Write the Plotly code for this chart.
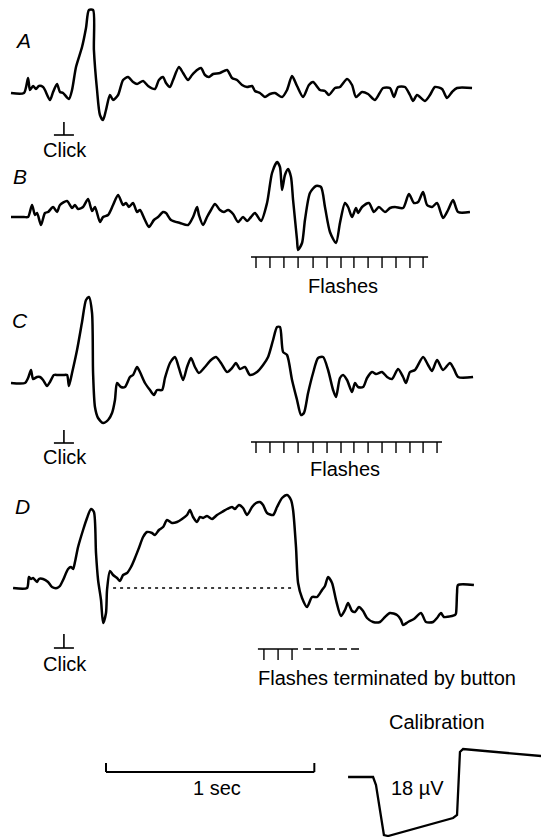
import plotly.graph_objects as go

# ---------------- DATA (time in ms from sweep start, amplitude in µV re. baseline) ----------------
a_t = [0, 62, 82, 91, 106, 120, 134, 154, 163, 187, 202, 221, 235, 250, 278, 293, 312, 341, 360, 374,
       394, 398, 413, 427, 442, 456, 475, 490, 514, 538, 562, 586, 605, 634, 658, 691, 710, 730, 744, 763,
       778, 806, 826, 850, 869, 893, 912, 931, 950, 970, 1003, 1037, 1061, 1085, 1109, 1133, 1157, 1171, 1195, 1219,
       1243, 1267, 1301, 1325, 1349, 1373, 1402, 1430, 1450, 1483, 1507, 1526, 1555, 1579, 1613, 1637, 1656, 1685, 1714, 1747,
       1786, 1819, 1838, 1858, 1891, 1915, 1930, 1949, 1987, 2011, 2035, 2069, 2093, 2117, 2141, 2213]
a_v = [0, 0, 4.5, 0.9, 2.1, 1.2, 2.1, 1.8, 0.9, -2.1, 0.3, 2.7, 0.3, 0, -1.8, 0.9, 7.8, 13.8, 19.5, 24.9,
       24.9, 12.9, 0.9, -6.6, -8.1, -5.1, -0.6, -2.1, -0.6, 3.9, 4.8, 3.3, 2.7, 3.6, 2.1, 1.2, 3.9, 4.8, 3.0, 1.8,
       3.9, 7.8, 6.0, 3.9, 5.4, 6.9, 7.5, 5.4, 4.8, 5.7, 6.0, 6.9, 4.5, 3.9, 2.4, 1.8, 2.1, 0.6, 0, -1.2,
       -0.3, 0, -1.2, 0.9, 5.1, 2.1, -1.2, 2.4, 3.3, 0.9, 0.6, -0.6, 1.5, 1.8, 4.2, 2.4, -1.2, 0.3, -0.3, -2.1,
       1.5, 1.5, -1.2, 1.8, 1.8, -0.6, -2.4, -0.6, -2.4, -0.6, 1.8, 1.2, -1.5, 0.3, 1.5, 1.5]

b_t = [0, 62, 82, 101, 115, 125, 144, 163, 178, 202, 221, 235, 269, 293, 307, 322, 346, 370, 389, 403,
       427, 442, 466, 490, 514, 538, 552, 566, 586, 605, 619, 643, 662, 686, 706, 730, 744, 768, 811, 850,
       874, 893, 902, 922, 941, 960, 979, 1003, 1022, 1042, 1066, 1090, 1114, 1133, 1152, 1171, 1200, 1229, 1253, 1277,
       1291, 1301, 1315, 1330, 1344, 1354, 1373, 1378, 1397, 1411, 1435, 1464, 1488, 1507, 1531, 1560, 1579, 1603, 1618, 1637,
       1656, 1666, 1685, 1718, 1742, 1766, 1795, 1819, 1843, 1882, 1910, 1934, 1954, 1978, 1997, 2021, 2045, 2074, 2098, 2122,
       2146, 2203]
b_v = [0, 0, 0, 3.6, 0.6, 1.2, -2.4, 1.2, 1.5, 3.0, 1.5, 3.6, 4.8, 2.7, 3.6, 2.4, 3.0, 5.4, 1.8, 3.0,
       -1.5, 0, 0.6, 3.6, 6.6, 3.6, 4.2, 3.0, 4.2, 1.5, 2.1, -0.9, -3.0, -0.9, 0, 1.5, 1.2, -0.9, -1.8, -2.4,
       0, 3.0, 0.6, -2.4, 0, 2.1, 3.9, 2.1, 1.5, 2.1, 0.9, -1.5, 0, -1.2, 0, 1.2, -1.2, 4.2, 13.2, 16.5,
       15.0, 8.1, 12.6, 14.4, 12.0, 5.1, -6.9, -9.9, -7.8, -0.9, 7.2, 9.3, 9.0, 3.0, -4.5, -7.8, -1.8, 4.2, 3.0, 0,
       2.7, 1.2, 3.0, 4.2, 1.5, 3.0, 1.5, 2.7, 3.0, 2.7, 6.9, 4.2, 4.5, 7.5, 3.6, 3.0, 4.2, -0.3, 2.1, 5.1,
       1.5, 1.5]

c_t = [0, 67, 82, 96, 106, 125, 139, 154, 173, 187, 206, 226, 250, 269, 278, 293, 317, 341, 360, 374,
       389, 394, 403, 418, 442, 466, 485, 499, 509, 528, 547, 571, 586, 605, 619, 643, 667, 686, 701, 725,
       739, 763, 787, 806, 826, 845, 864, 883, 902, 931, 960, 984, 1008, 1037, 1061, 1080, 1099, 1123, 1147, 1181,
       1210, 1234, 1258, 1277, 1291, 1306, 1325, 1349, 1373, 1392, 1406, 1426, 1450, 1474, 1498, 1522, 1546, 1560, 1579, 1594,
       1613, 1637, 1651, 1666, 1690, 1709, 1733, 1752, 1781, 1805, 1829, 1858, 1882, 1896, 1915, 1939, 1978, 2002, 2021, 2045,
       2074, 2107, 2126, 2146, 2218]
c_v = [0, 0, 1.5, 3.9, 1.2, 1.8, 1.8, 0.9, -0.9, 0.3, 2.4, 2.4, 2.4, 2.4, -0.9, 3.0, 9.9, 18.3, 24.9, 25.8,
       21.0, 3.0, -7.2, -10.5, -12.0, -11.1, -9.0, -5.1, 0, -1.2, -1.2, 1.8, 2.4, 4.8, 3.3, 0, -2.1, -3.6, -2.1, -2.1,
       1.5, 6.0, 7.8, 4.5, 0.9, 4.8, 7.5, 4.8, 3.0, 4.8, 6.9, 7.8, 6.0, 3.3, 4.5, 6.0, 4.2, 4.8, 2.4, 3.3,
       5.4, 7.8, 12.9, 16.8, 16.8, 9.3, 8.4, 0.9, -5.1, -9.6, -9.0, -3.0, 3.0, 7.5, 7.8, 3.9, -2.1, -4.2, 1.5, 2.4,
       0.9, -2.7, 0, -1.2, -1.2, 1.5, 3.3, 2.7, 3.3, 1.8, 1.2, 4.2, 1.8, 0, 3.3, 3.9, 7.8, 5.4, 3.6, 6.9,
       3.9, 6.0, 4.2, 1.8, 1.8]

d_t = [10, 77, 86, 96, 106, 125, 134, 154, 178, 197, 221, 235, 250, 274, 288, 298, 307, 322, 346, 365,
       384, 398, 408, 418, 432, 442, 456, 461, 475, 490, 509, 523, 538, 557, 576, 595, 614, 634, 653, 677,
       691, 710, 730, 749, 773, 797, 821, 845, 859, 874, 893, 907, 922, 941, 965, 989, 1013, 1037, 1061, 1075,
       1094, 1114, 1133, 1157, 1176, 1195, 1210, 1229, 1258, 1277, 1301, 1325, 1344, 1354, 1368, 1378, 1397, 1421, 1445, 1469,
       1493, 1507, 1522, 1541, 1560, 1584, 1603, 1618, 1637, 1651, 1670, 1690, 1709, 1738, 1771, 1795, 1819, 1853, 1872, 1882,
       1906, 1934, 1968, 1992, 2026, 2045, 2064, 2078, 2117, 2131, 2136, 2141, 2146, 2222]
d_v = [0, 0, 3.3, 2.7, 3.0, 1.8, 2.7, 2.7, 1.8, 0.3, 0, 0.6, 2.4, 5.7, 6.3, 5.7, 7.8, 12.3, 17.4, 21.0,
       23.7, 22.8, 10.5, 2.4, -3.6, -10.5, -7.5, -0.6, 5.1, 3.9, 3.0, 2.1, 3.9, 4.5, 6.3, 9.0, 12.0, 15.3, 16.8, 16.5,
       15.9, 17.4, 18.3, 20.4, 19.5, 19.8, 20.7, 21.9, 23.4, 21.3, 19.8, 21.3, 21.0, 21.6, 20.7, 21.9, 22.8, 23.7, 24.3, 23.7,
       24.9, 24.0, 21.9, 24.3, 25.5, 25.8, 24.9, 22.5, 21.9, 24.3, 27.0, 27.9, 26.4, 23.4, 12.3, 1.5, -3.0, -5.7, -2.7, -2.7,
       -0.6, 0.6, 3.3, 1.5, -3.6, -8.4, -6.6, -4.5, -6.9, -7.2, -5.7, -6.9, -9.0, -10.2, -10.2, -8.7, -7.5, -8.1, -9.6, -11.1,
       -10.2, -9.3, -7.5, -10.2, -10.2, -9.0, -7.5, -8.7, -8.4, -8.1, -7.6, -1.5, 0.9, 0.9]
d_dashed_baseline_ms = [490, 1349]

click_ms = 254
flash_b_ms = [1176, 1243, 1310, 1378, 1450, 1517, 1584, 1646, 1714, 1781, 1848, 1915, 1978]
flash_c_ms = [1176, 1243, 1310, 1378, 1450, 1517, 1584, 1646, 1714, 1781, 1848, 1915, 1978, 2045]
flash_d_ms = [1214, 1282, 1349]
button_ms = 1685

cal_t = [1618, 1738, 1752, 1790, 1810, 2122, 2141, 2155, 2170, 2560]
cal_v = [0, 0, -2.4, -17.4, -17.7, -12.3, -11.4, 7.5, 8.4, 6.2]
cal_uV = 18
scale_bar_ms = 1000
scale_bar_start_ms = 456

# ---------------- LAYOUT ----------------
W, H = 541, 837
MS_PER_PX = 4.8
UV_PER_PX = 0.3
X0_PX = 11
FONT = "Liberation Sans, Arial, Helvetica, sans-serif"
INK = "black"

baselines = {"A": 93, "B": 217, "C": 383, "D": 588, "cal": 777}
axis_ids = {"A": "y", "B": "y2", "C": "y3", "D": "y4", "cal": "y5"}


def ms_px(n_px):
    return n_px * MS_PER_PX


def py(p):
    return 1 - p / H


def pxp(p):
    return p / W


fig = go.Figure()

panel_data = {"A": (a_t, a_v), "B": (b_t, b_v), "C": (c_t, c_v), "D": (d_t, d_v)}
for key, (t, v) in panel_data.items():
    fig.add_trace(go.Scatter(x=t, y=v, mode="lines", yaxis=axis_ids[key], xaxis="x",
                             line=dict(color=INK, width=2.5, shape="spline", smoothing=0.7),
                             hoverinfo="skip"))

# dashed baseline in D
fig.add_trace(go.Scatter(x=d_dashed_baseline_ms, y=[0, 0], mode="lines", yaxis="y4", xaxis="x",
                         line=dict(color=INK, width=1.3, dash="3px,4px"), hoverinfo="skip"))

# calibration trace
fig.add_trace(go.Scatter(x=cal_t, y=cal_v, mode="lines", yaxis="y5", xaxis="x",
                         line=dict(color=INK, width=2.3), hoverinfo="skip"))

shapes = []


def line_ms(x0, x1, y0p, y1p, width=1.6, dash=None):
    d = dict(type="line", xref="x", yref="paper", x0=x0, x1=x1, y0=py(y0p), y1=py(y1p),
             line=dict(color=INK, width=width))
    if dash:
        d["line"]["dash"] = dash
    shapes.append(d)


# click markers (⊥)
for top, base in [(122, 135), (430, 443), (634, 648)]:
    line_ms(click_ms, click_ms, top, base, 1.6)
    line_ms(click_ms - ms_px(10), click_ms + ms_px(10), base, base, 1.6)


# flash rows
def flash_row(times, ytop, ybot, pad_l=5, pad_r=5):
    line_ms(times[0] - ms_px(pad_l), times[-1] + ms_px(pad_r), ytop, ytop, 1.6)
    for t in times:
        line_ms(t, t, ytop, ybot, 1.4)


flash_row(flash_b_ms, 257, 268)
flash_row(flash_c_ms, 442, 453)
flash_row(flash_d_ms, 649, 660, pad_l=6, pad_r=6)
line_ms(flash_d_ms[-1] + ms_px(11), button_ms, 649, 649, 1.4, dash="8px,4px")

# time scale bar
sb0, sb1 = scale_bar_start_ms, scale_bar_start_ms + scale_bar_ms
line_ms(sb0, sb1, 772, 772, 2)
line_ms(sb0, sb0, 772, 763, 2)
line_ms(sb1, sb1, 772, 763, 2)

annotations = []


def label(text, xp, yp, size=20):
    annotations.append(dict(text=text, x=pxp(xp), y=py(yp), xref="paper", yref="paper",
                            xanchor="center", yanchor="middle", showarrow=False,
                            font=dict(family=FONT, size=size, color=INK)))


label("<i>A</i>", 23, 40, 21)
label("<i>B</i>", 20, 176, 21)
label("<i>C</i>", 20, 320, 21)
label("<i>D</i>", 22, 506, 21)
for y in (150, 457, 664):
    label("Click", 65, y)
label("Flashes", 343, 286)
label("Flashes", 345, 469)
label("Flashes terminated by button", 387, 678)
label(f"{scale_bar_ms // 1000} sec", 217, 788)
label("Calibration", 437, 722)
label(f"{cal_uV} µV", 417, 788)

layout_axes = {}
for key, ax in axis_ids.items():
    b = baselines[key]
    name = "yaxis" if ax == "y" else "yaxis" + ax[1:]
    cfg = dict(range=[(b - H) * UV_PER_PX, b * UV_PER_PX], visible=False, domain=[0, 1],
               anchor="x", fixedrange=True)
    if ax != "y":
        cfg["overlaying"] = "y"
    layout_axes[name] = cfg

fig.update_layout(
    width=W, height=H, margin=dict(l=0, r=0, t=0, b=0),
    paper_bgcolor="white", plot_bgcolor="white", showlegend=False,
    xaxis=dict(range=[-X0_PX * MS_PER_PX, (W - X0_PX) * MS_PER_PX], visible=False, domain=[0, 1],
               anchor="y", fixedrange=True),
    shapes=shapes, annotations=annotations,
    **layout_axes,
)

fig.write_html("out.html", config={"displayModeBar": False})
